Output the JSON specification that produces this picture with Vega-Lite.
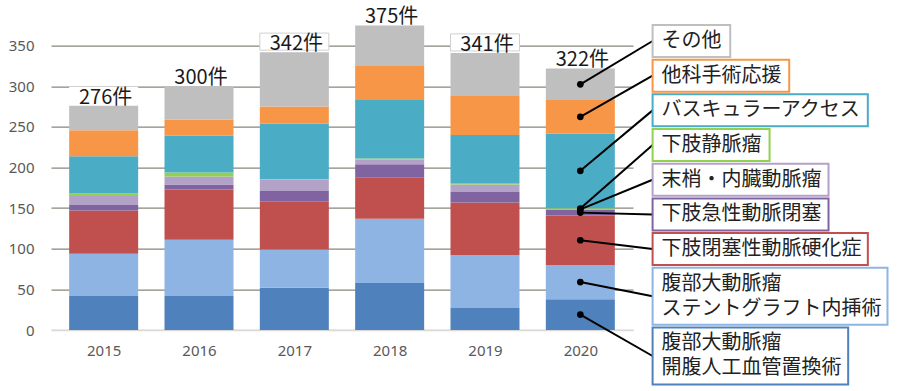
{
  "$schema": "https://vega.github.io/schema/vega-lite/v6.json",
  "autosize": {"type": "none"},
  "padding": {"left": 51, "top": 45.7, "right": 267, "bottom": 61},
  "width": 582,
  "height": 284.3,
  "background": "white",
  "config": {"view": {"stroke": "transparent", "strokeWidth": 0}, "font": "Noto Sans CJK JP", "axis": {"domain": false, "grid": false, "ticks": false}},
  "datasets": {
    "cats": [
      {"cat": "腹部大動脈瘤 開腹人工血管置換術", "k": 1, "label": "腹部大動脈瘤\n開腹人工血管置換術"},
      {"cat": "腹部大動脈瘤 ステントグラフト内挿術", "k": 2, "label": "腹部大動脈瘤\nステントグラフト内挿術"},
      {"cat": "下肢閉塞性動脈硬化症", "k": 3, "label": "下肢閉塞性動脈硬化症"},
      {"cat": "下肢急性動脈閉塞", "k": 4, "label": "下肢急性動脈閉塞"},
      {"cat": "末梢・内臓動脈瘤", "k": 5, "label": "末梢・内臓動脈瘤"},
      {"cat": "下肢静脈瘤", "k": 6, "label": "下肢静脈瘤"},
      {"cat": "バスキュラーアクセス", "k": 7, "label": "バスキュラーアクセス"},
      {"cat": "他科手術応援", "k": 8, "label": "他科手術応援"},
      {"cat": "その他", "k": 9, "label": "その他"}
    ],
    "counts": [
      {"year": 2015, "cat": "腹部大動脈瘤 開腹人工血管置換術", "n": 42},
      {"year": 2015, "cat": "腹部大動脈瘤 ステントグラフト内挿術", "n": 52},
      {"year": 2015, "cat": "下肢閉塞性動脈硬化症", "n": 53},
      {"year": 2015, "cat": "下肢急性動脈閉塞", "n": 7},
      {"year": 2015, "cat": "末梢・内臓動脈瘤", "n": 11},
      {"year": 2015, "cat": "下肢静脈瘤", "n": 3},
      {"year": 2015, "cat": "バスキュラーアクセス", "n": 46},
      {"year": 2015, "cat": "他科手術応援", "n": 32},
      {"year": 2015, "cat": "その他", "n": 30},
      {"year": 2016, "cat": "腹部大動脈瘤 開腹人工血管置換術", "n": 42},
      {"year": 2016, "cat": "腹部大動脈瘤 ステントグラフト内挿術", "n": 69},
      {"year": 2016, "cat": "下肢閉塞性動脈硬化症", "n": 62},
      {"year": 2016, "cat": "下肢急性動脈閉塞", "n": 6},
      {"year": 2016, "cat": "末梢・内臓動脈瘤", "n": 10},
      {"year": 2016, "cat": "下肢静脈瘤", "n": 5},
      {"year": 2016, "cat": "バスキュラーアクセス", "n": 45},
      {"year": 2016, "cat": "他科手術応援", "n": 20},
      {"year": 2016, "cat": "その他", "n": 41},
      {"year": 2017, "cat": "腹部大動脈瘤 開腹人工血管置換術", "n": 52},
      {"year": 2017, "cat": "腹部大動脈瘤 ステントグラフト内挿術", "n": 47},
      {"year": 2017, "cat": "下肢閉塞性動脈硬化症", "n": 59},
      {"year": 2017, "cat": "下肢急性動脈閉塞", "n": 13},
      {"year": 2017, "cat": "末梢・内臓動脈瘤", "n": 14},
      {"year": 2017, "cat": "下肢静脈瘤", "n": 1},
      {"year": 2017, "cat": "バスキュラーアクセス", "n": 68},
      {"year": 2017, "cat": "他科手術応援", "n": 21},
      {"year": 2017, "cat": "その他", "n": 67},
      {"year": 2018, "cat": "腹部大動脈瘤 開腹人工血管置換術", "n": 58},
      {"year": 2018, "cat": "腹部大動脈瘤 ステントグラフト内挿術", "n": 79},
      {"year": 2018, "cat": "下肢閉塞性動脈硬化症", "n": 51},
      {"year": 2018, "cat": "下肢急性動脈閉塞", "n": 16},
      {"year": 2018, "cat": "末梢・内臓動脈瘤", "n": 6},
      {"year": 2018, "cat": "下肢静脈瘤", "n": 1},
      {"year": 2018, "cat": "バスキュラーアクセス", "n": 72},
      {"year": 2018, "cat": "他科手術応援", "n": 42},
      {"year": 2018, "cat": "その他", "n": 50},
      {"year": 2019, "cat": "腹部大動脈瘤 開腹人工血管置換術", "n": 27},
      {"year": 2019, "cat": "腹部大動脈瘤 ステントグラフト内挿術", "n": 65},
      {"year": 2019, "cat": "下肢閉塞性動脈硬化症", "n": 65},
      {"year": 2019, "cat": "下肢急性動脈閉塞", "n": 13},
      {"year": 2019, "cat": "末梢・内臓動脈瘤", "n": 9},
      {"year": 2019, "cat": "下肢静脈瘤", "n": 2},
      {"year": 2019, "cat": "バスキュラーアクセス", "n": 59},
      {"year": 2019, "cat": "他科手術応援", "n": 48},
      {"year": 2019, "cat": "その他", "n": 53},
      {"year": 2020, "cat": "腹部大動脈瘤 開腹人工血管置換術", "n": 38},
      {"year": 2020, "cat": "腹部大動脈瘤 ステントグラフト内挿術", "n": 42},
      {"year": 2020, "cat": "下肢閉塞性動脈硬化症", "n": 61},
      {"year": 2020, "cat": "下肢急性動脈閉塞", "n": 7},
      {"year": 2020, "cat": "末梢・内臓動脈瘤", "n": 1},
      {"year": 2020, "cat": "下肢静脈瘤", "n": 1},
      {"year": 2020, "cat": "バスキュラーアクセス", "n": 92},
      {"year": 2020, "cat": "他科手術応援", "n": 41},
      {"year": 2020, "cat": "その他", "n": 39}
    ]
  },
  "data": {"name": "counts"},
  "transform": [
    {"lookup": "cat", "from": {"data": {"name": "cats"}, "key": "cat", "fields": ["k", "label"]}}
  ],
  "encoding": {
    "x": {
      "field": "year", "type": "quantitative",
      "scale": {"domain": [2014.5, 2020.5], "nice": false, "zero": false},
      "axis": {
        "values": [2015, 2016, 2017, 2018, 2019, 2020], "format": "d", "title": null,
        "grid": false, "ticks": false, "labelFlush": false,
        "domain": true, "domainColor": "#D9D9D9", "domainWidth": 1.5,
        "labelFont": "Noto Sans", "labelFontSize": 15, "labelColor": "#595959", "labelPadding": 13
      }
    }
  },
  "layer": [
    {
      "mark": {"type": "bar", "width": 69},
      "encoding": {
        "y": {
          "field": "n", "type": "quantitative", "stack": "zero",
          "scale": {"domain": [0, 350], "nice": false},
          "axis": {
            "values": [0, 50, 100, 150, 200, 250, 300, 350], "title": null,
            "domain": false, "ticks": false, "grid": true,
            "gridColor": {"condition": {"test": "datum.value === 0", "value": "#D9D9D9"}, "value": "#8A857C"},
            "gridWidth": 1.3,
            "labelFont": "Noto Sans", "labelFontSize": 15, "labelColor": "#595959", "labelPadding": 17
          }
        },
        "color": {
          "field": "cat", "type": "nominal", "legend": null,
          "scale": {
            "domain": ["腹部大動脈瘤 開腹人工血管置換術", "腹部大動脈瘤 ステントグラフト内挿術", "下肢閉塞性動脈硬化症", "下肢急性動脈閉塞", "末梢・内臓動脈瘤", "下肢静脈瘤", "バスキュラーアクセス", "他科手術応援", "その他"],
            "range": ["#4F81BD", "#8EB4E3", "#C0504D", "#8064A2", "#B3A2C7", "#92D050", "#4BACC6", "#F79646", "#BFBFBF"]
          }
        },
        "order": {"field": "k", "type": "quantitative", "sort": "ascending"}
      }
    },
    {
      "transform": [
        {"aggregate": [{"op": "sum", "field": "n", "as": "total"}], "groupby": ["year"]},
        {"calculate": "datum.total + '件'", "as": "lbl"},
        {"calculate": "datum.total + 2.5", "as": "lo"},
        {"calculate": "datum.total + 23.5", "as": "hi"}
      ],
      "layer": [
        {
          "mark": {"type": "bar", "width": 69, "fill": "white", "stroke": "#D0D0D0", "strokeWidth": 1},
          "encoding": {
            "y": {"field": "lo", "type": "quantitative"},
            "y2": {"field": "hi"},
            "strokeOpacity": {"condition": {"test": "datum.total > 335 && datum.total < 350", "value": 1}, "value": 0}
          }
        },
        {
          "mark": {"type": "text", "fontSize": 20, "color": "#1A1A1A", "baseline": "alphabetic", "align": "center", "dy": -2, "dx": 2, "font": "Noto Sans CJK JP"},
          "encoding": {
            "y": {"field": "total", "type": "quantitative"},
            "text": {"field": "lbl"}
          }
        }
      ]
    },
    {
      "transform": [
        {"filter": "datum.year === 2020"},
        {"stack": "n", "groupby": ["year"], "sort": [{"field": "k", "order": "ascending"}], "as": ["s0", "s1"]},
        {"calculate": "(datum.s0 + datum.s1) / 2", "as": "segmid"},
        {"calculate": "indexof(datum.label, '\\n') >= 0 ? 2 : 1", "as": "nl"},
        {"calculate": "datum.nl === 2 ? max(length(split(datum.label, '\\n')[0]), length(split(datum.label, '\\n')[1])) : length(datum.label)", "as": "ml"},
        {"calculate": "datum.nl === 2 ? 70.2 : 39.4", "as": "h"},
        {"calculate": "datum.h + 3.3", "as": "step"},
        {"window": [{"op": "sum", "field": "step", "as": "cum"}], "sort": [{"field": "k", "order": "descending"}], "frame": [null, 0]},
        {"calculate": "375.5 - datum.cum + datum.step", "as": "btop"},
        {"calculate": "datum.btop - datum.h", "as": "bbot"},
        {"calculate": "datum.btop - datum.h / 2", "as": "bmid"},
        {"calculate": "datum.nl === 2 ? datum.bmid + 15.4 : datum.bmid", "as": "ty"},
        {"calculate": "2020.758", "as": "bx"},
        {"calculate": "datum.bx + (19 + 20 * datum.ml) / 97", "as": "bxr"}
      ],
      "layer": [
        {
          "mark": {"type": "rule", "color": "black", "strokeWidth": 2},
          "encoding": {
            "y": {"field": "segmid", "type": "quantitative"},
            "x2": {"field": "bx"},
            "y2": {"field": "bmid"}
          }
        },
        {
          "mark": {"type": "circle", "color": "black", "opacity": 1, "size": 45},
          "encoding": {
            "y": {"field": "segmid", "type": "quantitative"}
          }
        },
        {
          "mark": {"type": "rect", "fill": "white", "strokeWidth": 2},
          "encoding": {
            "x": {"field": "bx", "type": "quantitative"},
            "x2": {"field": "bxr"},
            "y": {"field": "btop", "type": "quantitative"},
            "y2": {"field": "bbot"},
            "stroke": {
              "field": "cat", "type": "nominal", "legend": null,
              "scale": {
                "domain": ["腹部大動脈瘤 開腹人工血管置換術", "腹部大動脈瘤 ステントグラフト内挿術", "下肢閉塞性動脈硬化症", "下肢急性動脈閉塞", "末梢・内臓動脈瘤", "下肢静脈瘤", "バスキュラーアクセス", "他科手術応援", "その他"],
                "range": ["#4F81BD", "#8EB4E3", "#C0504D", "#8064A2", "#B3A2C7", "#92D050", "#4BACC6", "#F79646", "#BFBFBF"]
              }
            }
          }
        },
        {
          "mark": {"type": "text", "align": "left", "baseline": "middle", "dx": 9, "fontSize": 20, "lineHeight": 25, "lineBreak": "\n", "color": "#222222", "font": "Noto Sans CJK JP"},
          "encoding": {
            "x": {"field": "bx", "type": "quantitative"},
            "y": {"field": "ty", "type": "quantitative"},
            "text": {"field": "label"}
          }
        }
      ]
    }
  ]
}
